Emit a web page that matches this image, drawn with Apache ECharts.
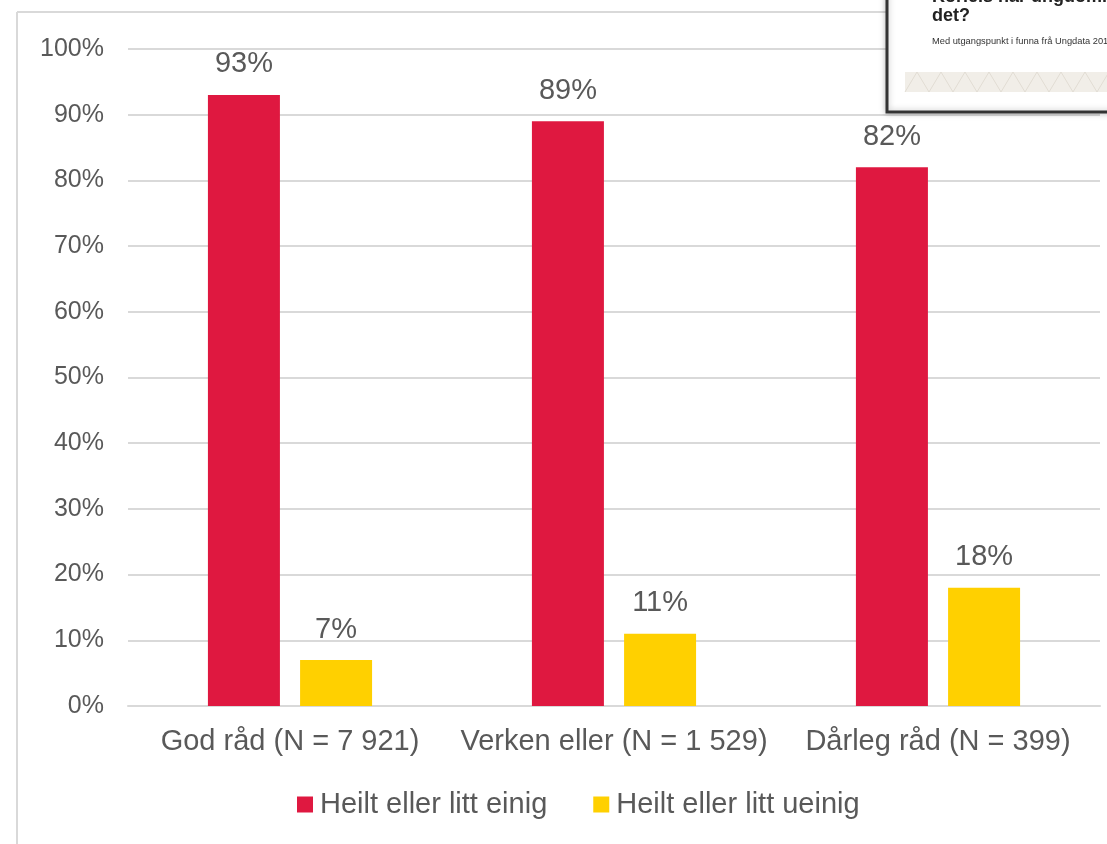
<!DOCTYPE html>
<html>
<head>
<meta charset="utf-8">
<script src="https://cdn.jsdelivr.net/npm/echarts@6/dist/echarts.min.js"></script>
<style>html,body{margin:0;padding:0;background:#fff}#c{width:1107px;height:844px}</style>
</head>
<body>
<div id="c"></div>
<script>
const categories = ['God råd (N = 7 921)', 'Verken eller (N = 1 529)', 'Dårleg råd (N = 399)'];
const seriesNames = ['Heilt eller litt einig', 'Heilt eller litt ueinig'];
const agree = [93, 89, 82];
const disagree = [7, 11, 18];
const yTicks = [0, 10, 20, 30, 40, 50, 60, 70, 80, 90, 100];

const chart = echarts.init(document.getElementById('c'));
const txt = '#595959';
const font = 'Liberation Sans, Arial, sans-serif';

const zig = [];
for (let x = 905; x <= 1107; x += 24) {
  zig.push({type:'polyline', shape:{points:[[x,92],[x+12,72],[x+24,92]]}, style:{stroke:'#e2ddd4', fill:null, lineWidth:1}, z:102});
}

chart.setOption({
  animation: false,
  textStyle: {fontFamily: font},
  legend: {
    data: seriesNames,
    bottom: 20,
    left: 292,
    itemWidth: 16, itemHeight: 16, itemGap: 46,
    icon: 'rect',
    textStyle: {fontSize: 29, color: txt, fontFamily: font, padding:[0,0,0,2]}
  },
  grid: {left: 128, right: 7, top: 49, bottom: 138},
  xAxis: {
    type: 'category',
    data: categories,
    axisTick: {show: false},
    axisLine: {lineStyle: {color: '#d9d9d9', width: 2}},
    axisLabel: {fontSize: 29, color: txt, margin: 21, fontFamily: font, interval: 0}
  },
  yAxis: {
    type: 'value',
    min: yTicks[0], max: yTicks[yTicks.length-1], interval: 10,
    axisLine: {show: false},
    axisTick: {show: false},
    splitLine: {lineStyle: {color: '#d9d9d9', width: 2}},
    axisLabel: {fontSize: 25, color: txt, margin: 24, formatter: '{value}%', fontFamily: font}
  },
  series: [
    {name: seriesNames[0], type: 'bar', data: agree, barWidth: 72, barGap: '28%',
     itemStyle: {color: '#DF1840'},
     label: {show: true, position: 'top', distance: 16, fontSize: 29, color: txt, formatter: '{c}%', fontFamily: font}},
    {name: seriesNames[1], type: 'bar', data: disagree, barWidth: 72,
     itemStyle: {color: '#FFD000'},
     label: {show: true, position: 'top', distance: 16, fontSize: 29, color: txt, formatter: '{c}%', fontFamily: font}}
  ],
  graphic: [
    {type:'line', shape:{x1:17,y1:12,x2:17,y2:844}, style:{stroke:'#d9d9d9', lineWidth:2}, z:50},
    {type:'line', shape:{x1:17,y1:12,x2:1107,y2:12}, style:{stroke:'#d9d9d9', lineWidth:2}, z:50},
    {type:'rect', shape:{x:887,y:-10,width:240,height:122}, style:{fill:'#fff', stroke:'#333', lineWidth:3, shadowBlur:6, shadowColor:'rgba(0,0,0,0.25)'}, z:100},
    {type:'text', x:932, y:-3, style:{text:'Korleis har ungdommane', font:'bold 18px Liberation Sans, Arial', fill:'#222', textVerticalAlign:'middle'}, z:101},
    {type:'text', x:932, y:16, style:{text:'det?', font:'bold 18px Liberation Sans, Arial', fill:'#222', textVerticalAlign:'middle'}, z:101},
    {type:'text', x:932, y:41, style:{text:'Med utgangspunkt i funna frå Ungdata 2017', font:'9.3px Liberation Sans, Arial', fill:'#333', textVerticalAlign:'middle'}, z:101},
    {type:'rect', shape:{x:905,y:72,width:202,height:20}, style:{fill:'#f1eee8'}, z:101}
  ].concat(zig)
});
</script>
</body>
</html>
